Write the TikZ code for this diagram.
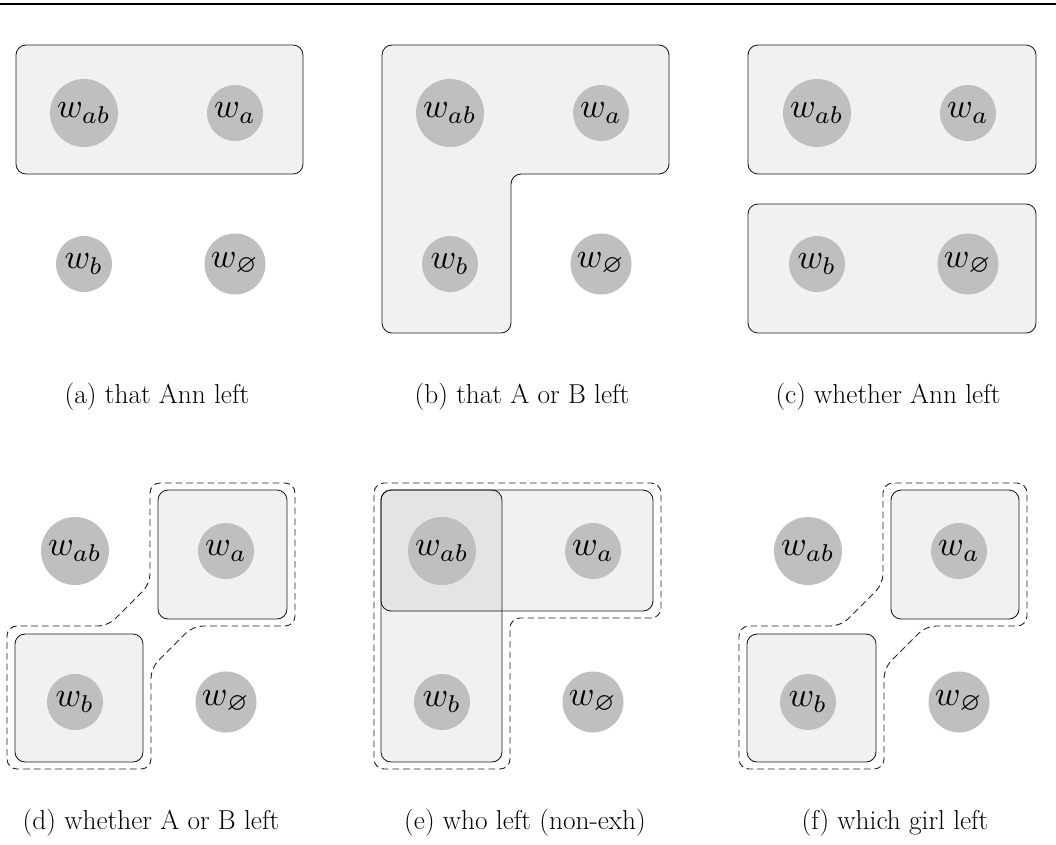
\documentclass[tikz,border=0pt]{standalone}
\usepackage{amssymb}
\definecolor{wgray}{RGB}{191,191,191}
\newcommand\wl[1]{\scalebox{2.6}{$w_{#1}$}}
\newcommand\fourworlds[3]{%
  \begin{scope}[shift={(#2,#3)}]
    \node[world=51pt] (#1ab) at (0,0) {\wl{ab}};
    \node[world=42pt] (#1a) at (151,0) {\wl{a}};
    \node[world=42pt] (#1b) at (0,151) {\wl{b}};
    \node[world=45.75pt] (#1n) at (151,151) {\wl{\varnothing}};
  \end{scope}}
\begin{document}
\begin{tikzpicture}[x=0.75pt,y=-0.75pt,
  world/.style={circle, fill=wgray, inner sep=0pt, minimum size=#1},
  region/.style={draw=black!90, line width=0.65pt, fill=black, fill opacity=0.055, rounded corners=7.5pt},
  hull/.style={draw=black!85, line width=0.7pt, dash pattern=on 5pt off 3pt, rounded corners=7.5pt},
  caption/.style={anchor=base, font=\fontsize{20.5}{24}\selectfont, inner sep=0pt}]
\useasboundingbox (0,0) rectangle (1056,844);
\draw[line width=1.1pt] (0,4) -- (1056,4);

% (a)
\path[region] (16,45) rectangle (303,174);
\fourworlds{a}{84}{113}
\node[caption] (capa) at (157,403) {(a) that Ann left};

% (b)
\path[region] (382,45) -- (669,45) -- (669,174) -- (511,174) -- (511,333) -- (382,333) -- cycle;
\fourworlds{b}{450}{113}
\node[caption] (capb) at (522,403) {(b) that A or B left};

% (c)
\path[region] (748,45) rectangle (1036,174);
\path[region] (748,204) rectangle (1036,333);
\fourworlds{c}{817}{113}
\node[caption] (capc) at (888,403) {(c) whether Ann left};

% (d)
\path[region] (158,490) rectangle (287,619);
\path[region] (15,634) rectangle (143,762);
\draw[hull] (220,483) -- (295,483) -- (295,626) -- (193,626) -- (151,668) -- (151,769) -- (7,769) -- (7,626) -- (108,626) -- (150,584) -- (150,483) -- cycle;
\fourworlds{d}{75}{551}
\node[caption] (capd) at (151,829) {(d) whether A or B left};

% (e)
\path[region] (381,490) rectangle (653,611);
\path[region] (381,490) rectangle (502,762);
\draw[hull] (520,483) -- (661,483) -- (661,618) -- (510,618) -- (510,769) -- (374,769) -- (374,483) -- cycle;
\fourworlds{e}{442}{551}
\node[caption] (cape) at (525,829) {(e) who left (non-exh)};

% (f)
\path[region] (891,490) rectangle (1019,619);
\path[region] (747,634) rectangle (876,762);
\draw[hull] (950,483) -- (1027,483) -- (1027,626) -- (926,626) -- (884,668) -- (884,769) -- (739,769) -- (739,626) -- (841,626) -- (883,584) -- (883,483) -- cycle;
\fourworlds{f}{808}{551}
\node[caption] (capf) at (895,829) {(f) which girl left};
\end{tikzpicture}
\end{document}
